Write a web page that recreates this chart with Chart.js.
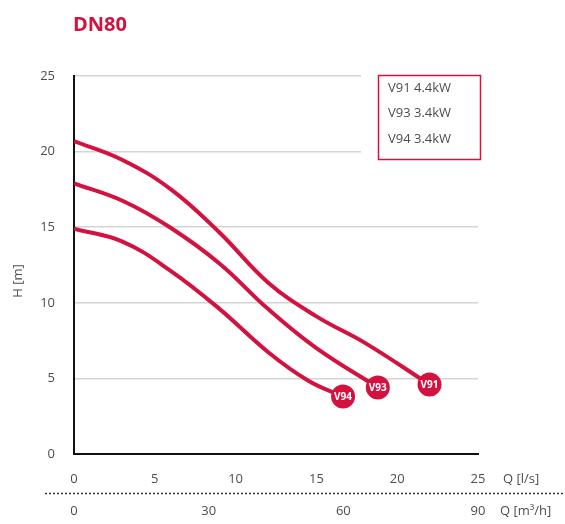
<!DOCTYPE html>
<html lang="en">
<head>
  <meta charset="UTF-8" />
  <title>DN80</title>
  <style>
    html, body { margin: 0; padding: 0; background: #fff; }
    #wrap { width: 565px; height: 524px; position: relative; }
  </style>
  <script src="https://cdn.jsdelivr.net/npm/chart.js"></script>
</head>
<body>
  <div id="wrap"><canvas id="pumpChart"></canvas></div>

  <script>
    // pump curves: Q in l/s, H in m
    const seriesNames = ["V91 4.4kW", "V93 3.4kW", "V94 3.4kW"];
    const markerTags = ["V91", "V93", "V94"];

    const qV91 = [0, 3, 6, 9, 12, 15, 18, 22];
    const hV91 = [20.7, 19.45, 17.5, 14.65, 11.35, 9.1, 7.35, 4.6];

    const qV93 = [0, 3, 6, 9, 12, 15, 18.8];
    const hV93 = [17.9, 16.75, 14.95, 12.6, 9.6, 7.0, 4.4];

    const qV94 = [0, 3, 6, 9, 12, 14.5, 16.65];
    const hV94 = [14.9, 14.05, 12.1, 9.6, 6.75, 4.85, 3.8];

    const hTicks = [0, 5, 10, 15, 20, 25];
    const qTicks = [0, 5, 10, 15, 20, 25];
    const q3Ticks = [0, 30, 60, 90];

    const RED = "#d3123f";
    const TXT = "#4d4d4d";
    const FONT = "'Open Sans', sans-serif";

    const toPoints = (qs, hs) => qs.map((q, i) => ({ x: q, y: hs[i] }));
    const curves = [toPoints(qV91, hV91), toPoints(qV93, hV93), toPoints(qV94, hV94)];

    const lastOnly = (ctx) => ctx.dataIndex === ctx.dataset.data.length - 1 ? 12 : 0;

    const extras = {
      id: "extras",
      beforeDatasetsDraw(chart) {
        // grid lines stop short of the legend box
        const c = chart.ctx;
        const a = chart.chartArea;
        c.save();
        c.fillStyle = "#fff";
        c.fillRect(361, a.top - 3, a.right - 361 + 2, 85);
        c.restore();
      },
      afterDatasetsDraw(chart) {
        const c = chart.ctx;
        c.save();
        c.fillStyle = "#fff";
        c.font = "bold 10px " + FONT;
        c.textAlign = "center";
        c.textBaseline = "middle";
        chart.data.datasets.forEach((ds, i) => {
          const pts = chart.getDatasetMeta(i).data;
          const p = pts[pts.length - 1];
          c.fillText(markerTags[i], p.x, p.y + 0.5);
        });
        c.restore();
      },
      afterDraw(chart) {
        const c = chart.ctx;
        c.save();

        // title
        c.fillStyle = RED;
        c.font = "bold 20px " + FONT;
        c.textBaseline = "middle";
        c.textAlign = "left";
        c.fillText("DN80", 73, 25);

        // legend box
        c.strokeStyle = RED;
        c.lineWidth = 1.5;
        c.strokeRect(378.5, 75.5, 102, 84);
        c.fillStyle = TXT;
        c.font = "13px " + FONT;
        seriesNames.forEach((n, i) => c.fillText(n, 388, 88 + i * 25.5));

        // y title
        c.save();
        c.translate(18, 281);
        c.rotate(-Math.PI / 2);
        c.textAlign = "center";
        c.fillText("H [m]", 0, 0);
        c.restore();

        // units of the two flow scales
        c.textAlign = "left";
        c.fillText("Q [l/s]", 503, 479);
        c.fillText("Q [m\u00b3/h]", 500, 511);

        // dotted separator
        c.strokeStyle = "#333";
        c.lineWidth = 1.5;
        c.setLineDash([2, 2]);
        c.beginPath();
        c.moveTo(45, 493.5);
        c.lineTo(565, 493.5);
        c.stroke();
        c.restore();
      }
    };

    new Chart(document.getElementById("pumpChart"), {
      type: "line",
      data: {
        datasets: curves.map((pts, i) => ({
          label: seriesNames[i],
          data: pts,
          borderColor: RED,
          borderWidth: 4,
          backgroundColor: RED,
          pointBackgroundColor: RED,
          pointBorderWidth: 0,
          pointRadius: lastOnly,
          pointHoverRadius: lastOnly,
          tension: 0.4,
          fill: false
        }))
      },
      options: {
        responsive: true,
        maintainAspectRatio: false,
        animation: false,
        events: [],
        layout: { padding: { top: 76, right: 87, bottom: 0, left: 0 } },
        plugins: { legend: { display: false }, tooltip: { enabled: false } },
        scales: {
          x: {
            type: "linear",
            position: "bottom",
            min: 0,
            max: 25,
            afterBuildTicks: (s) => { s.ticks = qTicks.map((v) => ({ value: v })); },
            afterFit: (s) => { s.height = 30; },
            grid: { drawOnChartArea: false, drawTicks: false },
            border: { display: true, color: "#111", width: 2 },
            ticks: { color: TXT, font: { family: FONT, size: 13 }, padding: 17, maxRotation: 0 }
          },
          x2: {
            type: "linear",
            position: "bottom",
            min: 0,
            max: 90,
            afterBuildTicks: (s) => { s.ticks = q3Ticks.map((v) => ({ value: v })); },
            afterFit: (s) => { s.height = 40; },
            grid: { display: false, drawTicks: false },
            border: { display: false },
            ticks: { color: TXT, font: { family: FONT, size: 13 }, padding: 19, maxRotation: 0 }
          },
          y: {
            min: 0,
            max: 25,
            afterBuildTicks: (s) => { s.ticks = hTicks.map((v) => ({ value: v })); },
            afterFit: (s) => { s.width = 74; },
            grid: { color: "#d4d4d4", lineWidth: 1.5, drawTicks: false },
            border: { display: true, color: "#111", width: 2 },
            ticks: { color: TXT, font: { family: FONT, size: 13 }, padding: 19 }
          }
        }
      },
      plugins: [extras]
    });
  </script>
</body>
</html>
